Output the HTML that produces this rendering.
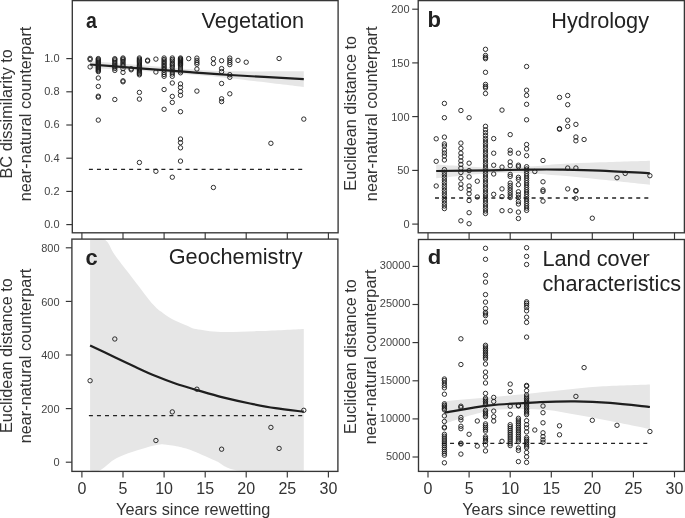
<!DOCTYPE html>
<html><head><meta charset="utf-8"><style>
html,body{margin:0;padding:0;background:#fff;}
svg{display:block;will-change:transform;}
text{font-family:"Liberation Sans",sans-serif;}
.fr{fill:none;stroke:#363636;stroke-width:1.35;}
.tk{stroke:#363636;stroke-width:1.15;}
.yl{font-size:11.5px;fill:#444;text-anchor:end;}
.xl{font-size:16px;fill:#333;text-anchor:middle;}
.ttl{font-size:21.7px;fill:#222;}
.let{font-size:21px;font-weight:bold;fill:#222;}
.ax{font-size:16.3px;fill:#333;text-anchor:middle;}
.pt circle{fill:none;stroke:#1a1a1a;stroke-width:0.9;}
.band{fill:#e6e6e6;stroke:none;}
.fit{fill:none;stroke:#1e1e1e;stroke-width:2.2;}
.dash{stroke:#222;stroke-width:1.3;stroke-dasharray:4 4.05;}
</style></head><body>
<svg width="685" height="518" viewBox="0 0 685 518">
<rect width="685" height="518" fill="#fff"/>
<!-- bands -->
<path class="band" d="M90.1,61.0 C95.8,61.5 112.4,62.8 124.0,63.8 C135.6,64.8 149.0,65.9 160.0,66.8 C171.0,67.7 178.3,68.5 190.0,69.2 C201.7,70.0 211.0,71.0 230.0,71.3 C249.0,71.6 291.5,71.3 303.8,71.3 L303.8,86.9 C291.5,85.5 249.0,80.3 230.0,78.2 C211.0,76.1 201.7,75.5 190.0,74.5 C178.3,73.5 171.0,73.0 160.0,72.2 C149.0,71.4 135.6,70.4 124.0,69.8 C112.4,69.2 95.8,68.8 90.1,68.6 Z"/>
<path class="band" d="M436.2,164.4 C445.2,164.9 474.4,167.2 490.0,167.5 C505.6,167.8 518.3,167.1 530.0,166.5 C541.7,165.9 548.3,164.7 560.0,164.0 C571.7,163.3 585.0,162.9 600.0,162.3 C615.0,161.8 641.5,161.0 649.9,160.7 L649.9,184.8 C641.5,183.9 615.0,181.0 600.0,179.5 C585.0,178.0 571.7,176.6 560.0,175.6 C548.3,174.6 541.7,173.8 530.0,173.4 C518.3,173.0 505.6,172.5 490.0,173.3 C474.4,174.1 445.2,177.5 436.2,178.3 Z"/>
<path class="band" d="M90.1,240.0 C92.6,240.0 101.2,237.4 105.3,240.0 C109.4,242.6 110.2,248.6 115.0,255.3 C119.8,262.0 127.9,272.1 134.3,280.4 C140.7,288.7 148.8,299.6 153.6,305.1 C158.4,310.6 160.0,310.8 163.2,313.2 C166.4,315.6 169.1,317.4 172.9,319.4 C176.7,321.4 182.2,323.6 186.0,325.2 C189.8,326.8 190.2,327.9 196.0,329.0 C201.8,330.1 210.3,331.6 221.0,331.9 C231.7,332.2 246.2,331.5 260.0,331.0 C273.8,330.5 296.5,329.2 303.8,328.9 L303.8,470.5 C293.0,470.5 253.8,472.2 239.0,470.5 C224.2,468.8 223.0,463.9 215.0,460.5 C207.0,457.1 197.0,452.6 191.2,450.3 C185.4,448.1 184.4,448.0 180.0,447.0 C175.6,446.0 168.7,444.9 165.0,444.5 C161.3,444.1 161.8,444.0 157.6,444.8 C153.4,445.6 146.9,447.3 140.0,449.5 C133.1,451.7 123.1,454.7 116.4,458.2 C109.7,461.7 104.1,468.4 99.7,470.5 C95.3,472.6 91.7,470.5 90.1,470.5 Z"/>
<path class="band" d="M444.4,401.2 C451.5,400.6 473.4,398.7 487.0,397.5 C500.6,396.3 513.7,395.2 526.0,394.0 C538.3,392.8 548.7,391.5 561.0,390.3 C573.3,389.1 585.2,387.6 600.0,386.6 C614.8,385.7 641.5,384.9 649.9,384.6 L649.9,429.0 C643.2,427.7 622.5,423.4 610.0,421.0 C597.5,418.6 586.7,416.4 575.0,414.5 C563.3,412.6 554.2,410.1 540.0,409.5 C525.8,408.9 505.9,408.3 490.0,410.7 C474.1,413.1 452.0,421.5 444.4,423.6 Z"/>
<!-- dashed reference lines -->
<line class="dash" x1="88.9" y1="169.3" x2="304.2" y2="169.3"/>
<line class="dash" x1="435.0" y1="198" x2="650.3" y2="198"/>
<line class="dash" x1="88.9" y1="415.6" x2="304.2" y2="415.6"/>
<line class="dash" x1="442.0" y1="443.3" x2="650.3" y2="443.3"/>
<!-- points -->
<g class="pt">
<circle cx="90.1" cy="58.4" r="2.2"/>
<circle cx="90.1" cy="59.6" r="2.2"/>
<circle cx="90.1" cy="66.9" r="2.2"/>
<circle cx="98.3" cy="58.6" r="2.2"/>
<circle cx="98.3" cy="59.6" r="2.2"/>
<circle cx="98.3" cy="60.6" r="2.2"/>
<circle cx="98.3" cy="61.6" r="2.2"/>
<circle cx="98.3" cy="62.6" r="2.2"/>
<circle cx="98.3" cy="63.6" r="2.2"/>
<circle cx="98.3" cy="64.6" r="2.2"/>
<circle cx="98.3" cy="65.6" r="2.2"/>
<circle cx="98.3" cy="66.6" r="2.2"/>
<circle cx="98.3" cy="67.6" r="2.2"/>
<circle cx="98.3" cy="68.6" r="2.2"/>
<circle cx="98.3" cy="69.6" r="2.2"/>
<circle cx="98.3" cy="70.6" r="2.2"/>
<circle cx="98.3" cy="71.6" r="2.2"/>
<circle cx="98.3" cy="78" r="2.2"/>
<circle cx="98.3" cy="86.4" r="2.2"/>
<circle cx="98.3" cy="96.2" r="2.2"/>
<circle cx="98.3" cy="97.2" r="2.2"/>
<circle cx="98.3" cy="120.1" r="2.2"/>
<circle cx="114.8" cy="58.7" r="2.2"/>
<circle cx="114.8" cy="59.7" r="2.2"/>
<circle cx="114.8" cy="61" r="2.2"/>
<circle cx="114.8" cy="62.5" r="2.2"/>
<circle cx="114.8" cy="64" r="2.2"/>
<circle cx="114.8" cy="65.5" r="2.2"/>
<circle cx="114.8" cy="67" r="2.2"/>
<circle cx="114.8" cy="68.5" r="2.2"/>
<circle cx="114.8" cy="70.4" r="2.2"/>
<circle cx="114.8" cy="99.5" r="2.2"/>
<circle cx="123.0" cy="58" r="2.2"/>
<circle cx="123.0" cy="59" r="2.2"/>
<circle cx="123.0" cy="60" r="2.2"/>
<circle cx="123.0" cy="61.5" r="2.2"/>
<circle cx="123.0" cy="63" r="2.2"/>
<circle cx="123.0" cy="64.5" r="2.2"/>
<circle cx="123.0" cy="66" r="2.2"/>
<circle cx="123.0" cy="68.7" r="2.2"/>
<circle cx="123.0" cy="72.4" r="2.2"/>
<circle cx="123.0" cy="80.8" r="2.2"/>
<circle cx="123.0" cy="81.8" r="2.2"/>
<circle cx="131.2" cy="68.8" r="2.2"/>
<circle cx="131.2" cy="69.8" r="2.2"/>
<circle cx="139.4" cy="58" r="2.2"/>
<circle cx="139.4" cy="59.2" r="2.2"/>
<circle cx="139.4" cy="60.4" r="2.2"/>
<circle cx="139.4" cy="61.6" r="2.2"/>
<circle cx="139.4" cy="62.8" r="2.2"/>
<circle cx="139.4" cy="64.0" r="2.2"/>
<circle cx="139.4" cy="65.2" r="2.2"/>
<circle cx="139.4" cy="66.4" r="2.2"/>
<circle cx="139.4" cy="67.6" r="2.2"/>
<circle cx="139.4" cy="68.8" r="2.2"/>
<circle cx="139.4" cy="70.0" r="2.2"/>
<circle cx="139.4" cy="71.2" r="2.2"/>
<circle cx="139.4" cy="72.4" r="2.2"/>
<circle cx="139.4" cy="73.6" r="2.2"/>
<circle cx="139.4" cy="74.8" r="2.2"/>
<circle cx="139.4" cy="92.4" r="2.2"/>
<circle cx="139.4" cy="99.1" r="2.2"/>
<circle cx="139.4" cy="162.5" r="2.2"/>
<circle cx="147.6" cy="60.2" r="2.2"/>
<circle cx="147.6" cy="61.0" r="2.2"/>
<circle cx="155.9" cy="59.1" r="2.2"/>
<circle cx="155.9" cy="72" r="2.2"/>
<circle cx="155.9" cy="171.3" r="2.2"/>
<circle cx="164.1" cy="58" r="2.2"/>
<circle cx="164.1" cy="59.5" r="2.2"/>
<circle cx="164.1" cy="61" r="2.2"/>
<circle cx="164.1" cy="62.5" r="2.2"/>
<circle cx="164.1" cy="64" r="2.2"/>
<circle cx="164.1" cy="65.5" r="2.2"/>
<circle cx="164.1" cy="67" r="2.2"/>
<circle cx="164.1" cy="68.5" r="2.2"/>
<circle cx="164.1" cy="70" r="2.2"/>
<circle cx="164.1" cy="72.5" r="2.2"/>
<circle cx="164.1" cy="74.5" r="2.2"/>
<circle cx="164.1" cy="76.3" r="2.2"/>
<circle cx="164.1" cy="89.5" r="2.2"/>
<circle cx="164.1" cy="109.3" r="2.2"/>
<circle cx="172.3" cy="58" r="2.2"/>
<circle cx="172.3" cy="59.5" r="2.2"/>
<circle cx="172.3" cy="61" r="2.2"/>
<circle cx="172.3" cy="63" r="2.2"/>
<circle cx="172.3" cy="64.5" r="2.2"/>
<circle cx="172.3" cy="66" r="2.2"/>
<circle cx="172.3" cy="67.5" r="2.2"/>
<circle cx="172.3" cy="70" r="2.2"/>
<circle cx="172.3" cy="72" r="2.2"/>
<circle cx="172.3" cy="74" r="2.2"/>
<circle cx="172.3" cy="76.3" r="2.2"/>
<circle cx="172.3" cy="83" r="2.2"/>
<circle cx="172.3" cy="96.4" r="2.2"/>
<circle cx="172.3" cy="102.4" r="2.2"/>
<circle cx="172.3" cy="177.2" r="2.2"/>
<circle cx="180.5" cy="58" r="2.2"/>
<circle cx="180.5" cy="58.8" r="2.2"/>
<circle cx="180.5" cy="59.6" r="2.2"/>
<circle cx="180.5" cy="60.4" r="2.2"/>
<circle cx="180.5" cy="61.2" r="2.2"/>
<circle cx="180.5" cy="62.0" r="2.2"/>
<circle cx="180.5" cy="62.8" r="2.2"/>
<circle cx="180.5" cy="63.6" r="2.2"/>
<circle cx="180.5" cy="64.4" r="2.2"/>
<circle cx="180.5" cy="65.2" r="2.2"/>
<circle cx="180.5" cy="67" r="2.2"/>
<circle cx="180.5" cy="69" r="2.2"/>
<circle cx="180.5" cy="71" r="2.2"/>
<circle cx="180.5" cy="72.8" r="2.2"/>
<circle cx="180.5" cy="83.9" r="2.2"/>
<circle cx="180.5" cy="87.4" r="2.2"/>
<circle cx="180.5" cy="91.5" r="2.2"/>
<circle cx="180.5" cy="95.3" r="2.2"/>
<circle cx="180.5" cy="111.7" r="2.2"/>
<circle cx="180.5" cy="139" r="2.2"/>
<circle cx="180.5" cy="142.6" r="2.2"/>
<circle cx="180.5" cy="147.8" r="2.2"/>
<circle cx="180.5" cy="161.1" r="2.2"/>
<circle cx="188.7" cy="58.6" r="2.2"/>
<circle cx="196.9" cy="58.1" r="2.2"/>
<circle cx="196.9" cy="60.4" r="2.2"/>
<circle cx="196.9" cy="62.4" r="2.2"/>
<circle cx="196.9" cy="64.2" r="2.2"/>
<circle cx="196.9" cy="69" r="2.2"/>
<circle cx="196.9" cy="91.1" r="2.2"/>
<circle cx="213.4" cy="58.7" r="2.2"/>
<circle cx="213.4" cy="63.5" r="2.2"/>
<circle cx="213.4" cy="187.5" r="2.2"/>
<circle cx="221.6" cy="60.7" r="2.2"/>
<circle cx="221.6" cy="68.6" r="2.2"/>
<circle cx="221.6" cy="71.6" r="2.2"/>
<circle cx="221.6" cy="83.5" r="2.2"/>
<circle cx="221.6" cy="98.8" r="2.2"/>
<circle cx="221.6" cy="101.6" r="2.2"/>
<circle cx="229.8" cy="58.1" r="2.2"/>
<circle cx="229.8" cy="60.3" r="2.2"/>
<circle cx="229.8" cy="62.4" r="2.2"/>
<circle cx="229.8" cy="64.6" r="2.2"/>
<circle cx="229.8" cy="74.7" r="2.2"/>
<circle cx="229.8" cy="77.3" r="2.2"/>
<circle cx="229.8" cy="93.8" r="2.2"/>
<circle cx="238.0" cy="60.4" r="2.2"/>
<circle cx="246.2" cy="62.2" r="2.2"/>
<circle cx="270.9" cy="143.3" r="2.2"/>
<circle cx="279.1" cy="58.5" r="2.2"/>
<circle cx="303.8" cy="119.1" r="2.2"/>
<circle cx="436.2" cy="138.8" r="2.2"/>
<circle cx="436.2" cy="161.3" r="2.2"/>
<circle cx="436.2" cy="186" r="2.2"/>
<circle cx="444.4" cy="103.4" r="2.2"/>
<circle cx="444.4" cy="117.7" r="2.2"/>
<circle cx="444.4" cy="137.1" r="2.2"/>
<circle cx="444.4" cy="143.9" r="2.2"/>
<circle cx="444.4" cy="146" r="2.2"/>
<circle cx="444.4" cy="150" r="2.2"/>
<circle cx="444.4" cy="153" r="2.2"/>
<circle cx="444.4" cy="156" r="2.2"/>
<circle cx="444.4" cy="160" r="2.2"/>
<circle cx="444.4" cy="169.6" r="2.2"/>
<circle cx="444.4" cy="172.2" r="2.2"/>
<circle cx="444.4" cy="174.8" r="2.2"/>
<circle cx="444.4" cy="177.4" r="2.2"/>
<circle cx="444.4" cy="180.0" r="2.2"/>
<circle cx="444.4" cy="182.6" r="2.2"/>
<circle cx="444.4" cy="185.2" r="2.2"/>
<circle cx="444.4" cy="187.8" r="2.2"/>
<circle cx="444.4" cy="190.4" r="2.2"/>
<circle cx="444.4" cy="193.0" r="2.2"/>
<circle cx="444.4" cy="195.6" r="2.2"/>
<circle cx="444.4" cy="198.2" r="2.2"/>
<circle cx="444.4" cy="200.8" r="2.2"/>
<circle cx="444.4" cy="203.4" r="2.2"/>
<circle cx="444.4" cy="206.0" r="2.2"/>
<circle cx="444.4" cy="208.6" r="2.2"/>
<circle cx="460.9" cy="110.5" r="2.2"/>
<circle cx="460.9" cy="143.1" r="2.2"/>
<circle cx="460.9" cy="148.4" r="2.2"/>
<circle cx="460.9" cy="153.2" r="2.2"/>
<circle cx="460.9" cy="157" r="2.2"/>
<circle cx="460.9" cy="160.9" r="2.2"/>
<circle cx="460.9" cy="164.4" r="2.2"/>
<circle cx="460.9" cy="168.2" r="2.2"/>
<circle cx="460.9" cy="172.5" r="2.2"/>
<circle cx="460.9" cy="178.3" r="2.2"/>
<circle cx="460.9" cy="184.1" r="2.2"/>
<circle cx="460.9" cy="188.3" r="2.2"/>
<circle cx="460.9" cy="220.8" r="2.2"/>
<circle cx="469.1" cy="117.7" r="2.2"/>
<circle cx="469.1" cy="163.2" r="2.2"/>
<circle cx="469.1" cy="170.6" r="2.2"/>
<circle cx="469.1" cy="176.9" r="2.2"/>
<circle cx="469.1" cy="186" r="2.2"/>
<circle cx="469.1" cy="189.9" r="2.2"/>
<circle cx="469.1" cy="193.7" r="2.2"/>
<circle cx="469.1" cy="200.5" r="2.2"/>
<circle cx="469.1" cy="212.7" r="2.2"/>
<circle cx="469.1" cy="223.7" r="2.2"/>
<circle cx="477.3" cy="181.2" r="2.2"/>
<circle cx="477.3" cy="197" r="2.2"/>
<circle cx="485.5" cy="49.3" r="2.2"/>
<circle cx="485.5" cy="55.5" r="2.2"/>
<circle cx="485.5" cy="57.4" r="2.2"/>
<circle cx="485.5" cy="58.7" r="2.2"/>
<circle cx="485.5" cy="72.3" r="2.2"/>
<circle cx="485.5" cy="84.4" r="2.2"/>
<circle cx="485.5" cy="86.4" r="2.2"/>
<circle cx="485.5" cy="87.9" r="2.2"/>
<circle cx="485.5" cy="93.5" r="2.2"/>
<circle cx="485.5" cy="126.3" r="2.2"/>
<circle cx="485.5" cy="129.8" r="2.2"/>
<circle cx="485.5" cy="132.7" r="2.2"/>
<circle cx="485.5" cy="135.6" r="2.2"/>
<circle cx="485.5" cy="138.5" r="2.2"/>
<circle cx="485.5" cy="141.0" r="2.2"/>
<circle cx="485.5" cy="143.5" r="2.2"/>
<circle cx="485.5" cy="146.0" r="2.2"/>
<circle cx="485.5" cy="148.5" r="2.2"/>
<circle cx="485.5" cy="151.0" r="2.2"/>
<circle cx="485.5" cy="153.5" r="2.2"/>
<circle cx="485.5" cy="156.0" r="2.2"/>
<circle cx="485.5" cy="158.5" r="2.2"/>
<circle cx="485.5" cy="161.0" r="2.2"/>
<circle cx="485.5" cy="163.5" r="2.2"/>
<circle cx="485.5" cy="166.0" r="2.2"/>
<circle cx="485.5" cy="168.5" r="2.2"/>
<circle cx="485.5" cy="171.0" r="2.2"/>
<circle cx="485.5" cy="173.5" r="2.2"/>
<circle cx="485.5" cy="176.0" r="2.2"/>
<circle cx="485.5" cy="178.5" r="2.2"/>
<circle cx="485.5" cy="181.0" r="2.2"/>
<circle cx="485.5" cy="183.5" r="2.2"/>
<circle cx="485.5" cy="186.0" r="2.2"/>
<circle cx="485.5" cy="188.5" r="2.2"/>
<circle cx="485.5" cy="191.0" r="2.2"/>
<circle cx="485.5" cy="193.5" r="2.2"/>
<circle cx="485.5" cy="196.0" r="2.2"/>
<circle cx="485.5" cy="198.5" r="2.2"/>
<circle cx="485.5" cy="201.0" r="2.2"/>
<circle cx="485.5" cy="203.5" r="2.2"/>
<circle cx="485.5" cy="206.0" r="2.2"/>
<circle cx="485.5" cy="208.5" r="2.2"/>
<circle cx="485.5" cy="211.0" r="2.2"/>
<circle cx="485.5" cy="213.5" r="2.2"/>
<circle cx="493.7" cy="138.6" r="2.2"/>
<circle cx="493.7" cy="153.2" r="2.2"/>
<circle cx="493.7" cy="165.2" r="2.2"/>
<circle cx="493.7" cy="174" r="2.2"/>
<circle cx="493.7" cy="194.3" r="2.2"/>
<circle cx="502.0" cy="110.1" r="2.2"/>
<circle cx="502.0" cy="167.1" r="2.2"/>
<circle cx="502.0" cy="188.9" r="2.2"/>
<circle cx="502.0" cy="196.6" r="2.2"/>
<circle cx="502.0" cy="210.7" r="2.2"/>
<circle cx="510.2" cy="134.6" r="2.2"/>
<circle cx="510.2" cy="150.3" r="2.2"/>
<circle cx="510.2" cy="153.2" r="2.2"/>
<circle cx="510.2" cy="161.9" r="2.2"/>
<circle cx="510.2" cy="165.7" r="2.2"/>
<circle cx="510.2" cy="174.4" r="2.2"/>
<circle cx="510.2" cy="176.4" r="2.2"/>
<circle cx="510.2" cy="183.1" r="2.2"/>
<circle cx="510.2" cy="185.5" r="2.2"/>
<circle cx="510.2" cy="187.9" r="2.2"/>
<circle cx="510.2" cy="190.3" r="2.2"/>
<circle cx="510.2" cy="192.7" r="2.2"/>
<circle cx="510.2" cy="195.1" r="2.2"/>
<circle cx="510.2" cy="197.5" r="2.2"/>
<circle cx="510.2" cy="210.7" r="2.2"/>
<circle cx="518.4" cy="153.2" r="2.2"/>
<circle cx="518.4" cy="165.2" r="2.2"/>
<circle cx="518.4" cy="166.7" r="2.2"/>
<circle cx="518.4" cy="177.3" r="2.2"/>
<circle cx="518.4" cy="179.3" r="2.2"/>
<circle cx="518.4" cy="184.7" r="2.2"/>
<circle cx="518.4" cy="191.8" r="2.2"/>
<circle cx="518.4" cy="194.7" r="2.2"/>
<circle cx="518.4" cy="197.6" r="2.2"/>
<circle cx="518.4" cy="201.5" r="2.2"/>
<circle cx="518.4" cy="204" r="2.2"/>
<circle cx="518.4" cy="212.1" r="2.2"/>
<circle cx="518.4" cy="218.5" r="2.2"/>
<circle cx="526.6" cy="66.5" r="2.2"/>
<circle cx="526.6" cy="90.2" r="2.2"/>
<circle cx="526.6" cy="95.4" r="2.2"/>
<circle cx="526.6" cy="104.3" r="2.2"/>
<circle cx="526.6" cy="119.8" r="2.2"/>
<circle cx="526.6" cy="144.5" r="2.2"/>
<circle cx="526.6" cy="148.9" r="2.2"/>
<circle cx="526.6" cy="155.7" r="2.2"/>
<circle cx="526.6" cy="166.7" r="2.2"/>
<circle cx="526.6" cy="169.0" r="2.2"/>
<circle cx="526.6" cy="171.3" r="2.2"/>
<circle cx="526.6" cy="173.6" r="2.2"/>
<circle cx="526.6" cy="175.9" r="2.2"/>
<circle cx="526.6" cy="178.2" r="2.2"/>
<circle cx="526.6" cy="180.5" r="2.2"/>
<circle cx="526.6" cy="182.8" r="2.2"/>
<circle cx="526.6" cy="185.1" r="2.2"/>
<circle cx="526.6" cy="187.4" r="2.2"/>
<circle cx="526.6" cy="189.7" r="2.2"/>
<circle cx="526.6" cy="192.0" r="2.2"/>
<circle cx="526.6" cy="194.3" r="2.2"/>
<circle cx="526.6" cy="196.6" r="2.2"/>
<circle cx="526.6" cy="198.9" r="2.2"/>
<circle cx="526.6" cy="201.2" r="2.2"/>
<circle cx="526.6" cy="203.5" r="2.2"/>
<circle cx="526.6" cy="205.8" r="2.2"/>
<circle cx="526.6" cy="208.1" r="2.2"/>
<circle cx="526.6" cy="210.4" r="2.2"/>
<circle cx="534.8" cy="171.5" r="2.2"/>
<circle cx="543.0" cy="160.5" r="2.2"/>
<circle cx="543.0" cy="181.8" r="2.2"/>
<circle cx="543.0" cy="189.9" r="2.2"/>
<circle cx="543.0" cy="191.4" r="2.2"/>
<circle cx="543.0" cy="201.1" r="2.2"/>
<circle cx="559.5" cy="97.4" r="2.2"/>
<circle cx="559.5" cy="128.6" r="2.2"/>
<circle cx="559.5" cy="129.2" r="2.2"/>
<circle cx="567.7" cy="95.5" r="2.2"/>
<circle cx="567.7" cy="104.7" r="2.2"/>
<circle cx="567.7" cy="120.2" r="2.2"/>
<circle cx="567.7" cy="126.4" r="2.2"/>
<circle cx="567.7" cy="168" r="2.2"/>
<circle cx="567.7" cy="188.9" r="2.2"/>
<circle cx="575.9" cy="124.4" r="2.2"/>
<circle cx="575.9" cy="137" r="2.2"/>
<circle cx="575.9" cy="140.8" r="2.2"/>
<circle cx="575.9" cy="168" r="2.2"/>
<circle cx="575.9" cy="190.5" r="2.2"/>
<circle cx="575.9" cy="191.1" r="2.2"/>
<circle cx="575.9" cy="198.3" r="2.2"/>
<circle cx="584.1" cy="139.5" r="2.2"/>
<circle cx="592.3" cy="218.2" r="2.2"/>
<circle cx="617.0" cy="177.7" r="2.2"/>
<circle cx="625.2" cy="173.4" r="2.2"/>
<circle cx="649.9" cy="175.7" r="2.2"/>
<circle cx="90.1" cy="380.7" r="2.2"/>
<circle cx="114.8" cy="339" r="2.2"/>
<circle cx="155.9" cy="440.5" r="2.2"/>
<circle cx="172.3" cy="411.9" r="2.2"/>
<circle cx="196.9" cy="389.2" r="2.2"/>
<circle cx="221.6" cy="449.2" r="2.2"/>
<circle cx="270.9" cy="427.4" r="2.2"/>
<circle cx="279.1" cy="448.4" r="2.2"/>
<circle cx="303.8" cy="410.3" r="2.2"/>
<circle cx="444.4" cy="379" r="2.2"/>
<circle cx="444.4" cy="380.6" r="2.2"/>
<circle cx="444.4" cy="383" r="2.2"/>
<circle cx="444.4" cy="385.4" r="2.2"/>
<circle cx="444.4" cy="387.8" r="2.2"/>
<circle cx="444.4" cy="394.2" r="2.2"/>
<circle cx="444.4" cy="403.8" r="2.2"/>
<circle cx="444.4" cy="405.3" r="2.2"/>
<circle cx="444.4" cy="406.8" r="2.2"/>
<circle cx="444.4" cy="408.3" r="2.2"/>
<circle cx="444.4" cy="409.8" r="2.2"/>
<circle cx="444.4" cy="415.9" r="2.2"/>
<circle cx="444.4" cy="421.5" r="2.2"/>
<circle cx="444.4" cy="427.1" r="2.2"/>
<circle cx="444.4" cy="427.9" r="2.2"/>
<circle cx="444.4" cy="434.3" r="2.2"/>
<circle cx="444.4" cy="436.2" r="2.2"/>
<circle cx="444.4" cy="438.1" r="2.2"/>
<circle cx="444.4" cy="440.0" r="2.2"/>
<circle cx="444.4" cy="441.9" r="2.2"/>
<circle cx="444.4" cy="443.8" r="2.2"/>
<circle cx="444.4" cy="445.7" r="2.2"/>
<circle cx="444.4" cy="447.6" r="2.2"/>
<circle cx="444.4" cy="449.5" r="2.2"/>
<circle cx="444.4" cy="451.4" r="2.2"/>
<circle cx="444.4" cy="453.3" r="2.2"/>
<circle cx="444.4" cy="455.2" r="2.2"/>
<circle cx="444.4" cy="462.8" r="2.2"/>
<circle cx="460.9" cy="338.8" r="2.2"/>
<circle cx="460.9" cy="364.5" r="2.2"/>
<circle cx="460.9" cy="406.2" r="2.2"/>
<circle cx="460.9" cy="407.5" r="2.2"/>
<circle cx="460.9" cy="417.5" r="2.2"/>
<circle cx="460.9" cy="419.9" r="2.2"/>
<circle cx="460.9" cy="426.3" r="2.2"/>
<circle cx="460.9" cy="428.7" r="2.2"/>
<circle cx="460.9" cy="443.2" r="2.2"/>
<circle cx="460.9" cy="444" r="2.2"/>
<circle cx="460.9" cy="454.1" r="2.2"/>
<circle cx="469.1" cy="434.3" r="2.2"/>
<circle cx="477.3" cy="421" r="2.2"/>
<circle cx="477.3" cy="446.1" r="2.2"/>
<circle cx="485.5" cy="248.3" r="2.2"/>
<circle cx="485.5" cy="259.3" r="2.2"/>
<circle cx="485.5" cy="275.3" r="2.2"/>
<circle cx="485.5" cy="282.1" r="2.2"/>
<circle cx="485.5" cy="294.6" r="2.2"/>
<circle cx="485.5" cy="302.1" r="2.2"/>
<circle cx="485.5" cy="308.5" r="2.2"/>
<circle cx="485.5" cy="312.4" r="2.2"/>
<circle cx="485.5" cy="313.9" r="2.2"/>
<circle cx="485.5" cy="315.6" r="2.2"/>
<circle cx="485.5" cy="322" r="2.2"/>
<circle cx="485.5" cy="345.3" r="2.2"/>
<circle cx="485.5" cy="347.0" r="2.2"/>
<circle cx="485.5" cy="348.7" r="2.2"/>
<circle cx="485.5" cy="350.4" r="2.2"/>
<circle cx="485.5" cy="352.1" r="2.2"/>
<circle cx="485.5" cy="353.8" r="2.2"/>
<circle cx="485.5" cy="355.5" r="2.2"/>
<circle cx="485.5" cy="357.2" r="2.2"/>
<circle cx="485.5" cy="358.9" r="2.2"/>
<circle cx="485.5" cy="364" r="2.2"/>
<circle cx="485.5" cy="372.1" r="2.2"/>
<circle cx="485.5" cy="376.9" r="2.2"/>
<circle cx="485.5" cy="383" r="2.2"/>
<circle cx="485.5" cy="393.4" r="2.2"/>
<circle cx="485.5" cy="398.2" r="2.2"/>
<circle cx="485.5" cy="399.8" r="2.2"/>
<circle cx="485.5" cy="401.4" r="2.2"/>
<circle cx="485.5" cy="403.0" r="2.2"/>
<circle cx="485.5" cy="404.6" r="2.2"/>
<circle cx="485.5" cy="410.3" r="2.2"/>
<circle cx="485.5" cy="411.9" r="2.2"/>
<circle cx="485.5" cy="413.5" r="2.2"/>
<circle cx="485.5" cy="415.1" r="2.2"/>
<circle cx="485.5" cy="416.7" r="2.2"/>
<circle cx="485.5" cy="423.9" r="2.2"/>
<circle cx="485.5" cy="425.7" r="2.2"/>
<circle cx="485.5" cy="427.5" r="2.2"/>
<circle cx="485.5" cy="429.3" r="2.2"/>
<circle cx="485.5" cy="431.1" r="2.2"/>
<circle cx="485.5" cy="436.8" r="2.2"/>
<circle cx="485.5" cy="438.4" r="2.2"/>
<circle cx="485.5" cy="440.0" r="2.2"/>
<circle cx="485.5" cy="441.6" r="2.2"/>
<circle cx="485.5" cy="445.1" r="2.2"/>
<circle cx="485.5" cy="450.9" r="2.2"/>
<circle cx="493.7" cy="397.4" r="2.2"/>
<circle cx="493.7" cy="401.5" r="2.2"/>
<circle cx="493.7" cy="411.1" r="2.2"/>
<circle cx="493.7" cy="416.7" r="2.2"/>
<circle cx="493.7" cy="421" r="2.2"/>
<circle cx="502.0" cy="441.3" r="2.2"/>
<circle cx="510.2" cy="384.1" r="2.2"/>
<circle cx="510.2" cy="391.5" r="2.2"/>
<circle cx="510.2" cy="406.2" r="2.2"/>
<circle cx="510.2" cy="414.3" r="2.2"/>
<circle cx="510.2" cy="424.7" r="2.2"/>
<circle cx="510.2" cy="426.6" r="2.2"/>
<circle cx="510.2" cy="428.5" r="2.2"/>
<circle cx="510.2" cy="430.4" r="2.2"/>
<circle cx="510.2" cy="432.3" r="2.2"/>
<circle cx="510.2" cy="434.2" r="2.2"/>
<circle cx="510.2" cy="436.1" r="2.2"/>
<circle cx="510.2" cy="438.0" r="2.2"/>
<circle cx="510.2" cy="439.9" r="2.2"/>
<circle cx="510.2" cy="441.8" r="2.2"/>
<circle cx="510.2" cy="443.7" r="2.2"/>
<circle cx="510.2" cy="445.6" r="2.2"/>
<circle cx="518.4" cy="405.5" r="2.2"/>
<circle cx="518.4" cy="405.9" r="2.2"/>
<circle cx="518.4" cy="418.3" r="2.2"/>
<circle cx="518.4" cy="420.1" r="2.2"/>
<circle cx="518.4" cy="421.9" r="2.2"/>
<circle cx="518.4" cy="423.7" r="2.2"/>
<circle cx="518.4" cy="425.5" r="2.2"/>
<circle cx="518.4" cy="427.3" r="2.2"/>
<circle cx="518.4" cy="429.1" r="2.2"/>
<circle cx="518.4" cy="430.9" r="2.2"/>
<circle cx="518.4" cy="432.7" r="2.2"/>
<circle cx="518.4" cy="434.5" r="2.2"/>
<circle cx="518.4" cy="436.3" r="2.2"/>
<circle cx="518.4" cy="438.1" r="2.2"/>
<circle cx="518.4" cy="439.9" r="2.2"/>
<circle cx="518.4" cy="441.7" r="2.2"/>
<circle cx="518.4" cy="448" r="2.2"/>
<circle cx="518.4" cy="450.4" r="2.2"/>
<circle cx="518.4" cy="461.6" r="2.2"/>
<circle cx="526.6" cy="247.7" r="2.2"/>
<circle cx="526.6" cy="256.4" r="2.2"/>
<circle cx="526.6" cy="264.5" r="2.2"/>
<circle cx="526.6" cy="301.8" r="2.2"/>
<circle cx="526.6" cy="303.3" r="2.2"/>
<circle cx="526.6" cy="305.2" r="2.2"/>
<circle cx="526.6" cy="307.5" r="2.2"/>
<circle cx="526.6" cy="310.8" r="2.2"/>
<circle cx="526.6" cy="317.2" r="2.2"/>
<circle cx="526.6" cy="322.4" r="2.2"/>
<circle cx="526.6" cy="337.1" r="2.2"/>
<circle cx="526.6" cy="385.4" r="2.2"/>
<circle cx="526.6" cy="386.2" r="2.2"/>
<circle cx="526.6" cy="390.7" r="2.2"/>
<circle cx="526.6" cy="395" r="2.2"/>
<circle cx="526.6" cy="397" r="2.2"/>
<circle cx="526.6" cy="398.6" r="2.2"/>
<circle cx="526.6" cy="400.2" r="2.2"/>
<circle cx="526.6" cy="401.8" r="2.2"/>
<circle cx="526.6" cy="403.4" r="2.2"/>
<circle cx="526.6" cy="405.0" r="2.2"/>
<circle cx="526.6" cy="406.6" r="2.2"/>
<circle cx="526.6" cy="408.2" r="2.2"/>
<circle cx="526.6" cy="409.8" r="2.2"/>
<circle cx="526.6" cy="411.4" r="2.2"/>
<circle cx="526.6" cy="413.0" r="2.2"/>
<circle cx="526.6" cy="414.6" r="2.2"/>
<circle cx="526.6" cy="420.7" r="2.2"/>
<circle cx="526.6" cy="424.7" r="2.2"/>
<circle cx="526.6" cy="427.9" r="2.2"/>
<circle cx="526.6" cy="431.9" r="2.2"/>
<circle cx="526.6" cy="437.6" r="2.2"/>
<circle cx="526.6" cy="439.3" r="2.2"/>
<circle cx="526.6" cy="441.0" r="2.2"/>
<circle cx="526.6" cy="442.7" r="2.2"/>
<circle cx="526.6" cy="444.4" r="2.2"/>
<circle cx="526.6" cy="446.1" r="2.2"/>
<circle cx="526.6" cy="447.8" r="2.2"/>
<circle cx="526.6" cy="452.5" r="2.2"/>
<circle cx="526.6" cy="456.8" r="2.2"/>
<circle cx="526.6" cy="462.4" r="2.2"/>
<circle cx="534.8" cy="430" r="2.2"/>
<circle cx="543.0" cy="406" r="2.2"/>
<circle cx="543.0" cy="412.7" r="2.2"/>
<circle cx="543.0" cy="422.8" r="2.2"/>
<circle cx="543.0" cy="432.8" r="2.2"/>
<circle cx="543.0" cy="436.6" r="2.2"/>
<circle cx="543.0" cy="439.8" r="2.2"/>
<circle cx="543.0" cy="442.3" r="2.2"/>
<circle cx="559.5" cy="425.8" r="2.2"/>
<circle cx="559.5" cy="434.8" r="2.2"/>
<circle cx="575.9" cy="396.4" r="2.2"/>
<circle cx="584.1" cy="367.6" r="2.2"/>
<circle cx="592.3" cy="420.3" r="2.2"/>
<circle cx="617.0" cy="425.3" r="2.2"/>
<circle cx="649.9" cy="431.5" r="2.2"/>
</g>
<!-- fits -->
<path class="fit" d="M90.1,64.5 C95.8,64.9 112.4,66.2 124.0,67.1 C135.6,68.0 149.0,69.1 160.0,69.9 C171.0,70.7 178.3,71.2 190.0,72.1 C201.7,72.9 211.0,73.8 230.0,75.0 C249.0,76.2 291.5,78.4 303.8,79.1"/>
<path class="fit" d="M436.2,171.0 C445.2,170.9 474.4,170.5 490.0,170.3 C505.6,170.1 518.3,169.7 530.0,169.6 C541.7,169.5 548.3,169.4 560.0,169.6 C571.7,169.8 585.0,170.0 600.0,170.6 C615.0,171.2 641.5,172.9 649.9,173.3"/>
<path class="fit" d="M90.1,345.4 C94.2,347.4 107.3,353.7 114.8,357.3 C122.3,360.9 128.3,363.7 135.0,366.8 C141.7,369.9 148.2,373.0 155.0,375.8 C161.8,378.6 169.0,381.3 176.0,383.7 C183.0,386.1 189.3,387.8 197.1,390.1 C204.9,392.4 214.0,395.2 222.8,397.4 C231.6,399.6 241.2,401.7 250.0,403.5 C258.8,405.3 266.4,406.8 275.4,408.2 C284.4,409.6 299.0,411.1 303.8,411.7"/>
<path class="fit" d="M444.4,412.7 C452.0,411.5 474.1,407.1 490.0,405.4 C505.9,403.6 525.8,402.9 540.0,402.2 C554.2,401.5 563.3,401.3 575.0,401.4 C586.7,401.5 597.5,401.9 610.0,402.8 C622.5,403.7 643.2,406.3 649.9,407.0"/>
<!-- frames -->
<rect x="72.3" y="0.6" width="265.8" height="232.20000000000002" class="fr"/>
<rect x="418.2" y="0.6" width="266.2" height="232.20000000000002" class="fr"/>
<rect x="71.9" y="239.1" width="266.0" height="232.29999999999998" class="fr"/>
<rect x="418.5" y="239.5" width="265.9" height="231.89999999999998" class="fr"/>
<!-- ticks -->
<line x1="66.3" y1="224.6" x2="72.3" y2="224.6" class="tk"/>
<text x="59.5" y="227.9" class="yl" style="font-size:11.0px">0.0</text>
<line x1="66.3" y1="191.4" x2="72.3" y2="191.4" class="tk"/>
<text x="59.5" y="194.7" class="yl" style="font-size:11.0px">0.2</text>
<line x1="66.3" y1="158.2" x2="72.3" y2="158.2" class="tk"/>
<text x="59.5" y="161.5" class="yl" style="font-size:11.0px">0.4</text>
<line x1="66.3" y1="125.0" x2="72.3" y2="125.0" class="tk"/>
<text x="59.5" y="128.3" class="yl" style="font-size:11.0px">0.6</text>
<line x1="66.3" y1="91.8" x2="72.3" y2="91.8" class="tk"/>
<text x="59.5" y="95.1" class="yl" style="font-size:11.0px">0.8</text>
<line x1="66.3" y1="58.6" x2="72.3" y2="58.6" class="tk"/>
<text x="59.5" y="61.9" class="yl" style="font-size:11.0px">1.0</text>
<line x1="412.2" y1="224.1" x2="418.2" y2="224.1" class="tk"/>
<text x="409.5" y="228.0" class="yl" style="font-size:11.0px">0</text>
<line x1="412.2" y1="170.4" x2="418.2" y2="170.4" class="tk"/>
<text x="409.5" y="174.3" class="yl" style="font-size:11.0px">50</text>
<line x1="412.2" y1="116.6" x2="418.2" y2="116.6" class="tk"/>
<text x="409.5" y="120.5" class="yl" style="font-size:11.0px">100</text>
<line x1="412.2" y1="62.9" x2="418.2" y2="62.9" class="tk"/>
<text x="409.5" y="66.8" class="yl" style="font-size:11.0px">150</text>
<line x1="412.2" y1="9.2" x2="418.2" y2="9.2" class="tk"/>
<text x="409.5" y="13.1" class="yl" style="font-size:11.0px">200</text>
<line x1="65.8" y1="462.2" x2="71.8" y2="462.2" class="tk"/>
<text x="59.5" y="466.3" class="yl" style="font-size:11.0px">0</text>
<line x1="65.8" y1="408.6" x2="71.8" y2="408.6" class="tk"/>
<text x="59.5" y="412.7" class="yl" style="font-size:11.0px">200</text>
<line x1="65.8" y1="355.0" x2="71.8" y2="355.0" class="tk"/>
<text x="59.5" y="359.1" class="yl" style="font-size:11.0px">400</text>
<line x1="65.8" y1="301.4" x2="71.8" y2="301.4" class="tk"/>
<text x="59.5" y="305.5" class="yl" style="font-size:11.0px">600</text>
<line x1="65.8" y1="247.8" x2="71.8" y2="247.8" class="tk"/>
<text x="59.5" y="251.9" class="yl" style="font-size:11.0px">800</text>
<line x1="412.5" y1="457.0" x2="418.5" y2="457.0" class="tk"/>
<text x="410.4" y="459.9" class="yl" style="font-size:11.0px">5000</text>
<line x1="412.5" y1="418.9" x2="418.5" y2="418.9" class="tk"/>
<text x="410.4" y="421.8" class="yl" style="font-size:11.0px">10000</text>
<line x1="412.5" y1="380.8" x2="418.5" y2="380.8" class="tk"/>
<text x="410.4" y="383.7" class="yl" style="font-size:11.0px">15000</text>
<line x1="412.5" y1="342.6" x2="418.5" y2="342.6" class="tk"/>
<text x="410.4" y="345.5" class="yl" style="font-size:11.0px">20000</text>
<line x1="412.5" y1="304.5" x2="418.5" y2="304.5" class="tk"/>
<text x="410.4" y="307.4" class="yl" style="font-size:11.0px">25000</text>
<line x1="412.5" y1="266.4" x2="418.5" y2="266.4" class="tk"/>
<text x="410.4" y="269.3" class="yl" style="font-size:11.0px">30000</text>
<line x1="81.9" y1="232.8" x2="81.9" y2="239.10000000000002" class="tk"/>
<line x1="123.0" y1="232.8" x2="123.0" y2="239.10000000000002" class="tk"/>
<line x1="164.1" y1="232.8" x2="164.1" y2="239.10000000000002" class="tk"/>
<line x1="205.2" y1="232.8" x2="205.2" y2="239.10000000000002" class="tk"/>
<line x1="246.2" y1="232.8" x2="246.2" y2="239.10000000000002" class="tk"/>
<line x1="287.3" y1="232.8" x2="287.3" y2="239.10000000000002" class="tk"/>
<line x1="328.4" y1="232.8" x2="328.4" y2="239.10000000000002" class="tk"/>
<line x1="428.0" y1="232.8" x2="428.0" y2="239.70000000000002" class="tk"/>
<line x1="469.1" y1="232.8" x2="469.1" y2="239.70000000000002" class="tk"/>
<line x1="510.2" y1="232.8" x2="510.2" y2="239.70000000000002" class="tk"/>
<line x1="551.3" y1="232.8" x2="551.3" y2="239.70000000000002" class="tk"/>
<line x1="592.3" y1="232.8" x2="592.3" y2="239.70000000000002" class="tk"/>
<line x1="633.4" y1="232.8" x2="633.4" y2="239.70000000000002" class="tk"/>
<line x1="674.5" y1="232.8" x2="674.5" y2="239.70000000000002" class="tk"/>
<line x1="81.9" y1="471.4" x2="81.9" y2="477.4" class="tk"/>
<text x="0" y="0" class="xl" transform="translate(81.9,494.0)">0</text>
<line x1="123.0" y1="471.4" x2="123.0" y2="477.4" class="tk"/>
<text x="0" y="0" class="xl" transform="translate(123.0,494.0)">5</text>
<line x1="164.1" y1="471.4" x2="164.1" y2="477.4" class="tk"/>
<text x="0" y="0" class="xl" transform="translate(164.1,494.0)">10</text>
<line x1="205.2" y1="471.4" x2="205.2" y2="477.4" class="tk"/>
<text x="0" y="0" class="xl" transform="translate(205.2,494.0)">15</text>
<line x1="246.2" y1="471.4" x2="246.2" y2="477.4" class="tk"/>
<text x="0" y="0" class="xl" transform="translate(246.2,494.0)">20</text>
<line x1="287.3" y1="471.4" x2="287.3" y2="477.4" class="tk"/>
<text x="0" y="0" class="xl" transform="translate(287.3,494.0)">25</text>
<line x1="328.4" y1="471.4" x2="328.4" y2="477.4" class="tk"/>
<text x="0" y="0" class="xl" transform="translate(328.4,494.0)">30</text>
<line x1="428.0" y1="471.4" x2="428.0" y2="477.4" class="tk"/>
<text x="0" y="0" class="xl" transform="translate(428.0,494.0)">0</text>
<line x1="469.1" y1="471.4" x2="469.1" y2="477.4" class="tk"/>
<text x="0" y="0" class="xl" transform="translate(469.1,494.0)">5</text>
<line x1="510.2" y1="471.4" x2="510.2" y2="477.4" class="tk"/>
<text x="0" y="0" class="xl" transform="translate(510.2,494.0)">10</text>
<line x1="551.3" y1="471.4" x2="551.3" y2="477.4" class="tk"/>
<text x="0" y="0" class="xl" transform="translate(551.3,494.0)">15</text>
<line x1="592.3" y1="471.4" x2="592.3" y2="477.4" class="tk"/>
<text x="0" y="0" class="xl" transform="translate(592.3,494.0)">20</text>
<line x1="633.4" y1="471.4" x2="633.4" y2="477.4" class="tk"/>
<text x="0" y="0" class="xl" transform="translate(633.4,494.0)">25</text>
<line x1="674.5" y1="471.4" x2="674.5" y2="477.4" class="tk"/>
<text x="0" y="0" class="xl" transform="translate(674.5,494.0)">30</text>
<!-- titles -->
<text class="let" transform="translate(85.9,27.9) scale(0.93,1.03)">a</text>
<text class="let" transform="translate(427.4,27.3) scale(1.05,1.01)">b</text>
<text class="let" transform="translate(85.5,264.6) scale(1.04,1.04)">c</text>
<text class="let" transform="translate(427.7,264.3) scale(1.05,1.0)">d</text>
<text class="ttl" x="304.1" y="27.8" text-anchor="end">Vegetation</text>
<text class="ttl" x="649" y="27.5" text-anchor="end">Hydrology</text>
<text class="ttl" x="302.5" y="264.2" text-anchor="end">Geochemistry</text>
<text class="ttl" x="542.5" y="265.6">Land cover</text>
<text class="ttl" x="542.5" y="290.7">characteristics</text>
<!-- axis labels -->
<text class="ax" transform="translate(12.4,113.8) rotate(-90)">BC dissimilarity to</text>
<text class="ax" transform="translate(31.2,114) rotate(-90)">near-natural counterpart</text>
<text class="ax" transform="translate(355.8,113.3) rotate(-90)">Euclidean distance to</text>
<text class="ax" transform="translate(376.6,113.8) rotate(-90)">near-natural counterpart</text>
<text class="ax" transform="translate(12.4,355.6) rotate(-90)">Euclidean distance to</text>
<text class="ax" transform="translate(31.2,356) rotate(-90)">near-natural counterpart</text>
<text class="ax" transform="translate(356,356.5) rotate(-90)">Euclidean distance to</text>
<text class="ax" transform="translate(376.1,356.9) rotate(-90)">near-natural counterpart</text>
<text class="ax" x="193.2" y="514.5">Years since rewetting</text>
<text class="ax" x="539.3" y="514.5">Years since rewetting</text>
</svg>
</body></html>
